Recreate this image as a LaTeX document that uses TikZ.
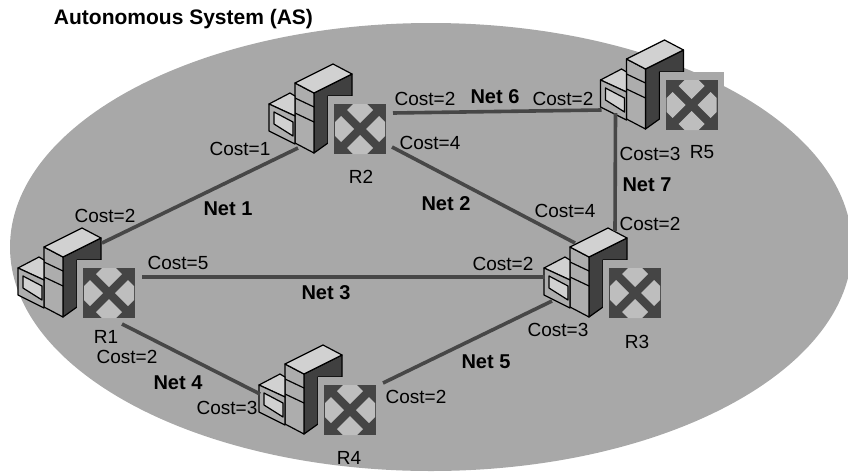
\documentclass[tikz,border=0pt]{standalone}
\usepackage{fontspec}
\setmainfont{Liberation Sans}
\usepackage{xcolor}
\usepackage{tikz}
\usetikzlibrary{positioning,calc}
\definecolor{areagray}{gray}{0.66}
\definecolor{markgray}{gray}{0.27}
\definecolor{lightgray2}{gray}{0.82}
\definecolor{facegray}{gray}{0.68}
\tikzstyle{cost} = [inner sep=0pt,font=\fontsize{19}{20}\selectfont]
\tikzstyle{net} = [inner sep=0pt,font=\fontsize{20}{21}\selectfont\bfseries]
\tikzstyle{title} = [inner sep=0pt,font=\fontsize{21}{22}\selectfont\bfseries]
\tikzstyle{link} = [line width=3.6pt,draw=black!72]
\tikzstyle{case} = [draw=black,line width=1.2pt,line join=round]
\tikzset{router/.pic={
    % tower and monitor
    \path[case,fill=black!75] (-46,-36) -- (-8,-55) -- (-8,-33) -- (-32,-33) -- (-32,14) -- (-46,24) -- cycle;
    \path[case,fill=facegray] (-65,-46) -- (-46,-36) -- (-46,24) -- (-65,14) -- cycle;
    \path[case,fill=lightgray2] (-65,-46) -- (-27,-65) -- (-8,-55) -- (-46,-36) -- cycle;
    \draw[case] (-65,-31) -- (-46,-22) (-65,-16) -- (-46,-7);
    \path[case,fill=lightgray2] (-91,-25) -- (-70,-36) -- (-65,-33) -- (-65,-13) -- cycle;
    \path[case,fill=facegray] (-91,-25) -- (-65,-13) -- (-65,15) -- (-91,2) -- cycle;
    \path[case,fill=lightgray2] (-86,-17) -- (-67,-7) -- (-67,7) -- (-86,-5) -- cycle;
    % cross mark
    \fill[areagray] (-32,-33) rectangle (32,31);
    \node[fill=markgray,minimum width=52pt,minimum height=50pt,inner sep=0pt] (-box) at (0,0) {};
    \foreach \ang in {0,90,180,270}
        \fill[facegray!80!white,rotate=\ang] (-7,-25) -- (7,-25) -- (13,-19) -- (0,-6) -- (-13,-19) -- cycle;
    % link ends
    \coordinate (-e) at (33,-16);
    \coordinate (-se) at (32,18);
    \coordinate (-ne) at (33,-27);
    \coordinate (-s) at (13,31);
    \coordinate (-w) at (-90,-16);
    \coordinate (-wl) at (-90,5);
    \coordinate (-sw) at (-83,8);
    \coordinate (-sl) at (-76,8);
    \coordinate (-sb) at (-62,19);
    \coordinate (-n) at (-7,-50);
    \coordinate (-nl) at (-60,-50);
    \coordinate (-nr) at (-20,-62);
}}

\begin{document}
\begin{tikzpicture}[x=1pt,y=-1pt]
    \useasboundingbox (0,0) rectangle (848,472);
    \begin{scope}
        \clip (0,0) rectangle (848,472);
        \fill[areagray] (431,247) ellipse [x radius=421,y radius=224];
    \end{scope}
    \pic (R1) at (109,293) {router};
    \pic (R2) at (360,129) {router};
    \pic (R3) at (635,293) {router};
    \pic (R4) at (350,410) {router};
    \pic (R5) at (691.5,105) {router};
    \draw[link] (R1-n) -- (R2-sb);
    \draw[link] (R2-se) -- (R3-nl);
    \draw[link] (R1-e) -- (R3-w);
    \draw[link] (R1-s) -- (R4-w);
    \draw[link] (R4-ne) -- (R3-sw);
    \draw[link] (R2-e) -- (R5-wl);
    \draw[link] (R5-sl) -- (R3-nr);
    \node[title] (as) at (183.5,19) {Autonomous System (AS)};
    \node[net] (n1) at (228,209) {Net 1};
    \node[net] (n2) at (446,204) {Net 2};
    \node[net] (n3) at (326,293) {Net 3};
    \node[net] (n4) at (178,383) {Net 4};
    \node[net] (n5) at (486,362) {Net 5};
    \node[net] (n6) at (495,97) {Net 6};
    \node[net] (n7) at (647,185) {Net 7};
    \node[cost] (l1) at (106,337) {R1};
    \node[cost] (l2) at (361,177) {R2};
    \node[cost] (l3) at (637,342) {R3};
    \node[cost] (l4) at (349,458) {R4};
    \node[cost] (l5) at (702,152) {R5};
    \node[cost] (c1a) at (105,216) {Cost=2};
    \node[cost] (c1b) at (240,149) {Cost=1};
    \node[cost] (c2a) at (430,143) {Cost=4};
    \node[cost] (c2b) at (565,211) {Cost=4};
    \node[cost] (c3a) at (178,263) {Cost=5};
    \node[cost] (c3b) at (503,264) {Cost=2};
    \node[cost] (c4a) at (127,357) {Cost=2};
    \node[cost] (c4b) at (227,408) {Cost=3};
    \node[cost] (c5a) at (416,397) {Cost=2};
    \node[cost] (c5b) at (558,330) {Cost=3};
    \node[cost] (c6a) at (425,99) {Cost=2};
    \node[cost] (c6b) at (563,99) {Cost=2};
    \node[cost] (c7a) at (650,154) {Cost=3};
    \node[cost] (c7b) at (650,224) {Cost=2};
\end{tikzpicture}
\end{document}
